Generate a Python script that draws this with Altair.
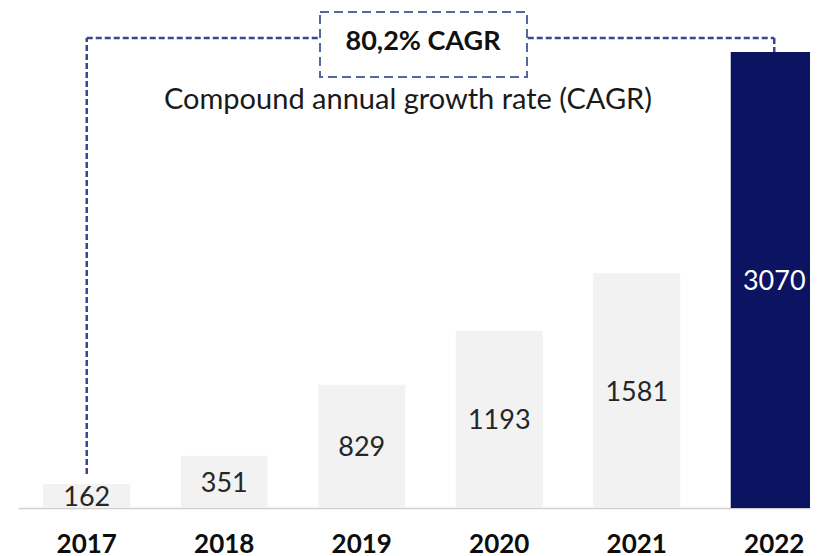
import altair as alt
import pandas as pd

# ---- data ----
years = ["2017", "2018", "2019", "2020", "2021", "2022"]
values = [162, 351, 829, 1193, 1581, 3070]
highlight_year = "2022"
cagr_label = "80,2% CAGR"
cagr_caption = "Compound annual growth rate (CAGR)"

# annotation connector levels (data units)
connector_level = 3164
connector_left_bottom = 229

Y_MAX = 3366

df = pd.DataFrame({"year": years, "value": values})
df["mid"] = df["value"] / 2

seg = pd.DataFrame({
    "year": [years[0], years[0], years[-1]],
    "year_end": [years[0], years[-1], years[-1]],
    "y_start": [connector_left_bottom, connector_level, connector_level],
    "y_end": [connector_level, connector_level, values[-1]],
})
ann = pd.DataFrame({"label": [cagr_label], "caption": [cagr_caption]})

FONT = "Lato"
# the last bar runs off the right edge of the picture, as in the reference
x_scale = alt.Scale(domain=years, range=[0, 825], paddingInner=0.367, paddingOuter=0.1835)
y_scale = alt.Scale(domain=[0, Y_MAX], nice=False, zero=True)

x_enc = alt.X(
    "year:N", scale=x_scale,
    axis=alt.Axis(title=None, labelAngle=0, ticks=False, grid=False,
                  domainColor="#d0d0d0", domainWidth=1.5,
                  labelFont=FONT, labelFontWeight="bold", labelFontSize=26,
                  labelColor="#0d0d0d", labelPadding=23),
)

bars = alt.Chart(df).mark_bar().encode(
    x=x_enc,
    y=alt.Y("value:Q", scale=y_scale, axis=None),
    color=alt.condition(alt.datum.year == highlight_year,
                        alt.value("#0c1461"), alt.value("#f2f2f2")),
)

labels = alt.Chart(df).mark_text(
    font=FONT, fontSize=27, baseline="middle", align="center", dy=2
).encode(
    x=alt.X("year:N"),
    y=alt.Y("mid:Q"),
    text=alt.Text("value:Q"),
    color=alt.condition(alt.datum.year == highlight_year,
                        alt.value("#ffffff"), alt.value("#262626")),
)

connector = alt.Chart(seg).mark_rule(
    color="#3a4690", strokeWidth=2.5, strokeDash=[6, 3]
).encode(
    x=alt.X("year:N"),
    x2="year_end",
    y="y_start:Q",
    y2="y_end",
)

box = alt.Chart(ann).mark_rect(
    fill="white", stroke="#5468a0", strokeWidth=2, strokeDash=[9, 5]
).encode(
    x=alt.value(302), x2=alt.value(509), y=alt.value(4), y2=alt.value(69)
)

box_text = alt.Chart(ann).mark_text(
    font=FONT, fontSize=27, fontWeight="bold", baseline="alphabetic",
    align="center", color="#111111"
).encode(x=alt.value(405), y=alt.value(42), text="label:N")

caption = alt.Chart(ann).mark_text(
    font=FONT, fontSize=29, baseline="alphabetic", align="center",
    color="#1a1a1a"
).encode(x=alt.value(390), y=alt.value(101), text="caption:N")

chart = alt.layer(bars, labels, connector, box, box_text, caption).properties(
    width=792, height=500,
    autosize=alt.AutoSizeParams(type="none"),
    padding={"left": 10, "top": 0, "right": 0, "bottom": 48},
).configure_view(stroke=None)

chart.save("out.html", embed_options={"renderer": "svg", "actions": False})
